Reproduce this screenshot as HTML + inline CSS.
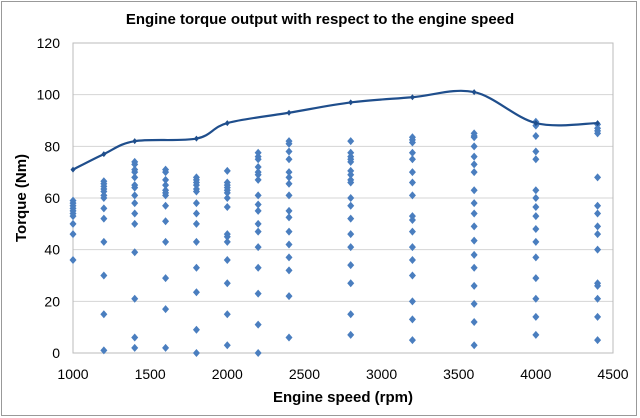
<!DOCTYPE html>
<html><head><meta charset="utf-8"><style>
html,body{margin:0;padding:0;background:#fff}
svg{display:block;font-family:"Liberation Sans",sans-serif}
</style></head><body>
<svg id="chart" width="640" height="418" viewBox="0 0 640 418" xmlns="http://www.w3.org/2000/svg">
<rect x="1.5" y="1.5" width="635" height="414" fill="#fff" stroke="#999"/>
<text x="320" y="24" text-anchor="middle" font-size="15" font-weight="bold">Engine torque output with respect to the engine speed</text>
<text transform="translate(26,198) rotate(-90)" text-anchor="middle" font-size="15" font-weight="bold">Torque (Nm)</text>
<text x="343" y="402" text-anchor="middle" font-size="15" font-weight="bold">Engine speed (rpm)</text>
<g id="grid"></g><g id="ticks"></g><g id="marks"></g>
</svg>
<script>
const xTicks=[1000,1500,2000,2500,3000,3500,4000,4500];
const yTicks=[0,20,40,60,80,100,120];
const lineSpeeds=[1000,1200,1400,1800,2000,2400,2800,3200,3600,4000,4400];
const lineTorque=[71,77,82,83,89,93,97,99,101,89,89];
const speeds=[1000,1200,1400,1600,1800,2000,2200,2400,2800,3200,3600,4000,4400];
const torques=[
[59,58,57,56,55,54,53,50,46,36],
[66.5,65.5,64.5,63.5,62.5,61,60,56,52,43,30,15,1],
[74,73,71,70,68,65,64,61,58,54,50,39,21,6,2],
[71,70,67,65,63,62,61,57,51,43,29,17,2],
[68,67,66,65,63.5,62.5,58,54,50,43,33,23.5,9,0],
[70.5,66,65,64,63,62,60,56.5,46,45,43,36,27,15,3],
[77.5,76,75,72,70,69,67,61,57.5,55,50,47,41,33,23,11,0],
[82,81,78,75,70,68,65.5,61,55,52.5,47,42,37,32,22,6],
[82,77.5,76,75,74,70.5,69,67,66,60,57,52,46,41,34,27,15,7],
[83.5,82.5,81.5,77.5,75,70,66,61,53,51.5,47,41,36,30,20,13,5],
[85,84,83.5,80,76,73,70,63,58,54,49,43.5,38,33,26,19,12,3],
[89.5,88,84,78,75,63,60,56.5,53,48,43,37,29,21,14,7],
[88.5,87,86,85,68,57,54,49,46,40,27,26,21,14,5]];
const L=73,R=613,T=43,B=353;
const xs=v=>L+(v-1000)/3500*(R-L);
const ys=v=>B-v/120*(B-T);
const NS="http://www.w3.org/2000/svg";
function mk(tag,attrs,parent){const e=document.createElementNS(NS,tag);for(const k in attrs)e.setAttribute(k,attrs[k]);document.getElementById(parent).appendChild(e);return e;}
yTicks.forEach(v=>{
 const g=mk('line',{x1:L,x2:R,y1:ys(v),y2:ys(v),stroke:'#d4d4d4','stroke-width':1},'grid');
 
 
 const t=mk('text',{x:L-13,y:ys(v)+5,'text-anchor':'end','font-size':14,fill:'#000'},'ticks');t.textContent=v;
 
 
});
const fr=mk('rect',{x:L,y:T,width:R-L,height:B-T,fill:'none',stroke:'#bbb'},'grid');


xTicks.forEach(v=>{
 const t=mk('text',{x:xs(v),y:B+26,'text-anchor':'middle','font-size':14},'ticks');t.textContent=v;
 
 
});
speeds.forEach((s,i)=>torques[i].forEach(v=>{
 const x=xs(s),y=ys(v);
 const p=mk('path',{d:`M${x},${y-4}L${x+3.5},${y}L${x},${y+4}L${x-3.5},${y}Z`,fill:'#4a7ebf'},'marks');
 
 
}));
const P=lineSpeeds.map((s,i)=>[xs(s),ys(lineTorque[i])]);
let d=`M${P[0][0]},${P[0][1]}`;
for(let i=0;i<P.length-1;i++){
 const p0=P[Math.max(0,i-1)],p1=P[i],p2=P[i+1],p3=P[Math.min(P.length-1,i+2)];
 const k=1/6;
 d+=`C${p1[0]+(p2[0]-p0[0])*k},${p1[1]+(p2[1]-p0[1])*k} ${p2[0]-(p3[0]-p1[0])*k},${p2[1]-(p3[1]-p1[1])*k} ${p2[0]},${p2[1]}`;
}
const ln=mk('path',{d:d,fill:'none',stroke:'#1f4e8c','stroke-width':2.2},'marks');


P.forEach(p=>{
 const m=mk('path',{d:`M${p[0]},${p[1]-3}L${p[0]+2.5},${p[1]}L${p[0]},${p[1]+3}L${p[0]-2.5},${p[1]}Z`,fill:'#1f4e8c'},'marks');
 
 
});
</script>
</body></html>
